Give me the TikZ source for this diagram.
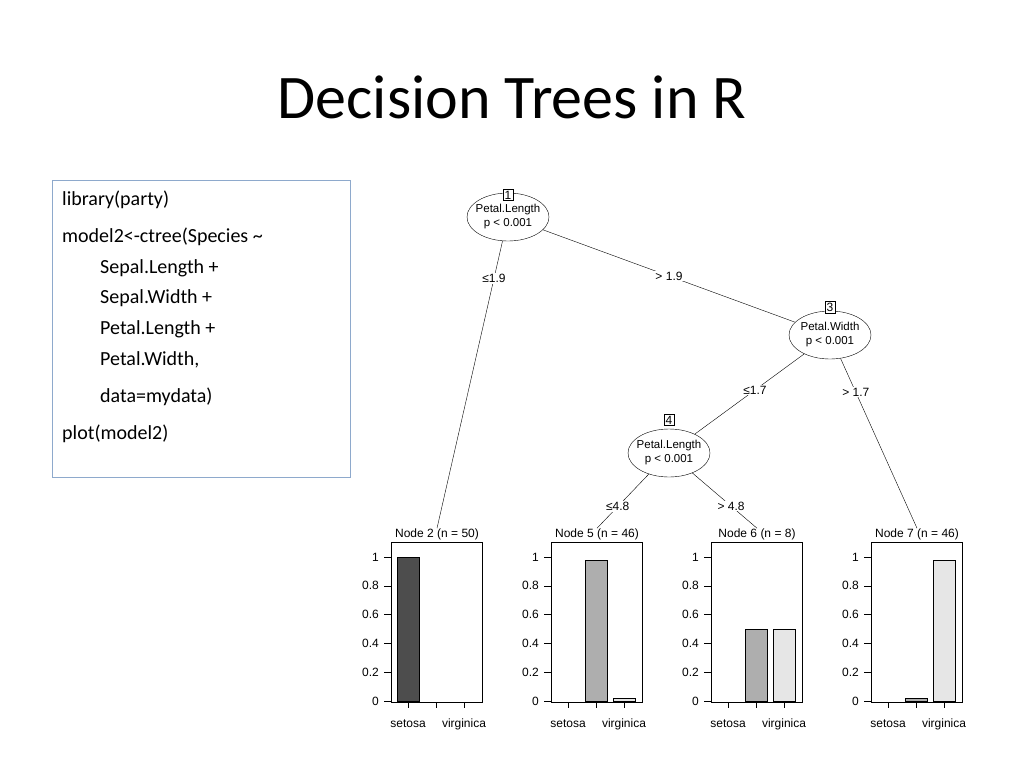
\documentclass[tikz,border=0pt]{standalone}
\usepackage{fontspec}
\setmainfont{Carlito}
\newfontfamily\rfont{Liberation Sans}
\usetikzlibrary{shapes.geometric}
\definecolor{boxblue}{HTML}{8EA9CC}
\definecolor{cset}{HTML}{4D4D4D}
\definecolor{cver}{HTML}{AEAEAE}
\definecolor{cvir}{HTML}{E6E6E6}
\tikzset{
  code/.style={anchor=west,font=\fontsize{20}{24}\selectfont,inner sep=0},
  split/.style={ellipse,draw,thin,minimum width=82pt,minimum height=48pt,inner xsep=-5pt,inner ysep=0pt,align=center,font=\rfont\fontsize{11.5}{14}\selectfont},
  idbox/.style={draw,thin,fill=white,inner sep=1.5pt,font=\rfont\fontsize{12}{12}\selectfont},
  elab/.style={fill=white,inner sep=1pt,font=\rfont\fontsize{12}{12}\selectfont},
  rtxt/.style={font=\rfont\fontsize{12}{12}\selectfont,inner sep=0},
  edge/.style={draw,thin}
}
\newcommand{\panel}[5]{% offset, name, title, v2, v3
  \begin{scope}[xshift=#1pt]
    \node[rtxt] (#2) at (437,534) {#3};
    \draw[thin] (391,542) rectangle (482,702);
    \foreach \v/\lab in {0/0,0.2/0.2,0.4/0.4,0.6/0.6,0.8/0.8,1/1}{
      \draw[thin] (384,701-144*\v) -- (391,701-144*\v);
      \node[rtxt,anchor=east] at (379,701-144*\v) {\lab};}
    \foreach \x in {408,436,464} \draw[thin] (\x,702) -- (\x,708);
    \node[rtxt] at (408,724) {setosa};
    \node[rtxt] at (464,724) {virginica};
    \ifdim #4pt>0pt \draw[thin,fill=cver] (425,701) rectangle (447,701-144*#4); \fi
    \ifdim #5pt>0pt \draw[thin,fill=cvir] (453,701) rectangle (475,701-144*#5); \fi
  \end{scope}}
\begin{document}
\begin{tikzpicture}[x=1pt,y=-1pt]
\useasboundingbox (0,0) rectangle (1024,768);
\node[font=\fontsize{62}{70}\selectfont] (title) at (512,97) {Decision Trees in R};
\draw[boxblue,thick] (52,180) rectangle (350,477);
\node[code] (c1) at (62,200) {library(party)};
\node[code] (c2) at (62,237) {model2<-ctree(Species \textasciitilde};
\node[code] (c3) at (100,268) {Sepal.Length +};
\node[code] (c4) at (100,298) {Sepal.Width +};
\node[code] (c5) at (100,329) {Petal.Length +};
\node[code] (c6) at (100,360) {Petal.Width,};
\node[code] (c7) at (100,397) {data=mydata)};
\node[code] (c8) at (62,434) {plot(model2)};
% panels
\panel{0}{p2}{Node 2 (n = 50)}{0}{0}
\draw[thin,fill=cset] (397,701) rectangle (419,557);
\panel{160}{p5}{Node 5 (n = 46)}{0.978}{0.022}
\panel{320}{p6}{Node 6 (n = 8)}{0.5}{0.5}
\panel{480}{p7}{Node 7 (n = 46)}{0.022}{0.978}
% split nodes
\node[split] (n1) at (508,217) {Petal.Length\\p < 0.001};
\node[split] (n3) at (830,335) {Petal.Width\\p < 0.001};
\node[split] (n4) at (669,453) {Petal.Length\\p < 0.001};
\node[idbox] (b1) at (508,195) {1};
\node[idbox] (b3) at (830,307) {3};
\node[idbox] (b4) at (669,420) {4};
% edges
\draw[edge] (n1) -- (p2.north) node[elab,pos=0.13] {≤1.9};
\draw[edge] (n1) -- (n3) node[elab,pos=0.5] {> 1.9};
\draw[edge] (n3) -- (n4) node[elab,pos=0.45] {≤1.7};
\draw[edge] (n3) -- (p7.north) node[elab,pos=0.2] {> 1.7};
\draw[edge] (n4) -- (p5.north) node[elab,pos=0.6] {≤4.8};
\draw[edge] (n4) -- (p6.north) node[elab,pos=0.6] {> 4.8};
\end{tikzpicture}
\end{document}
